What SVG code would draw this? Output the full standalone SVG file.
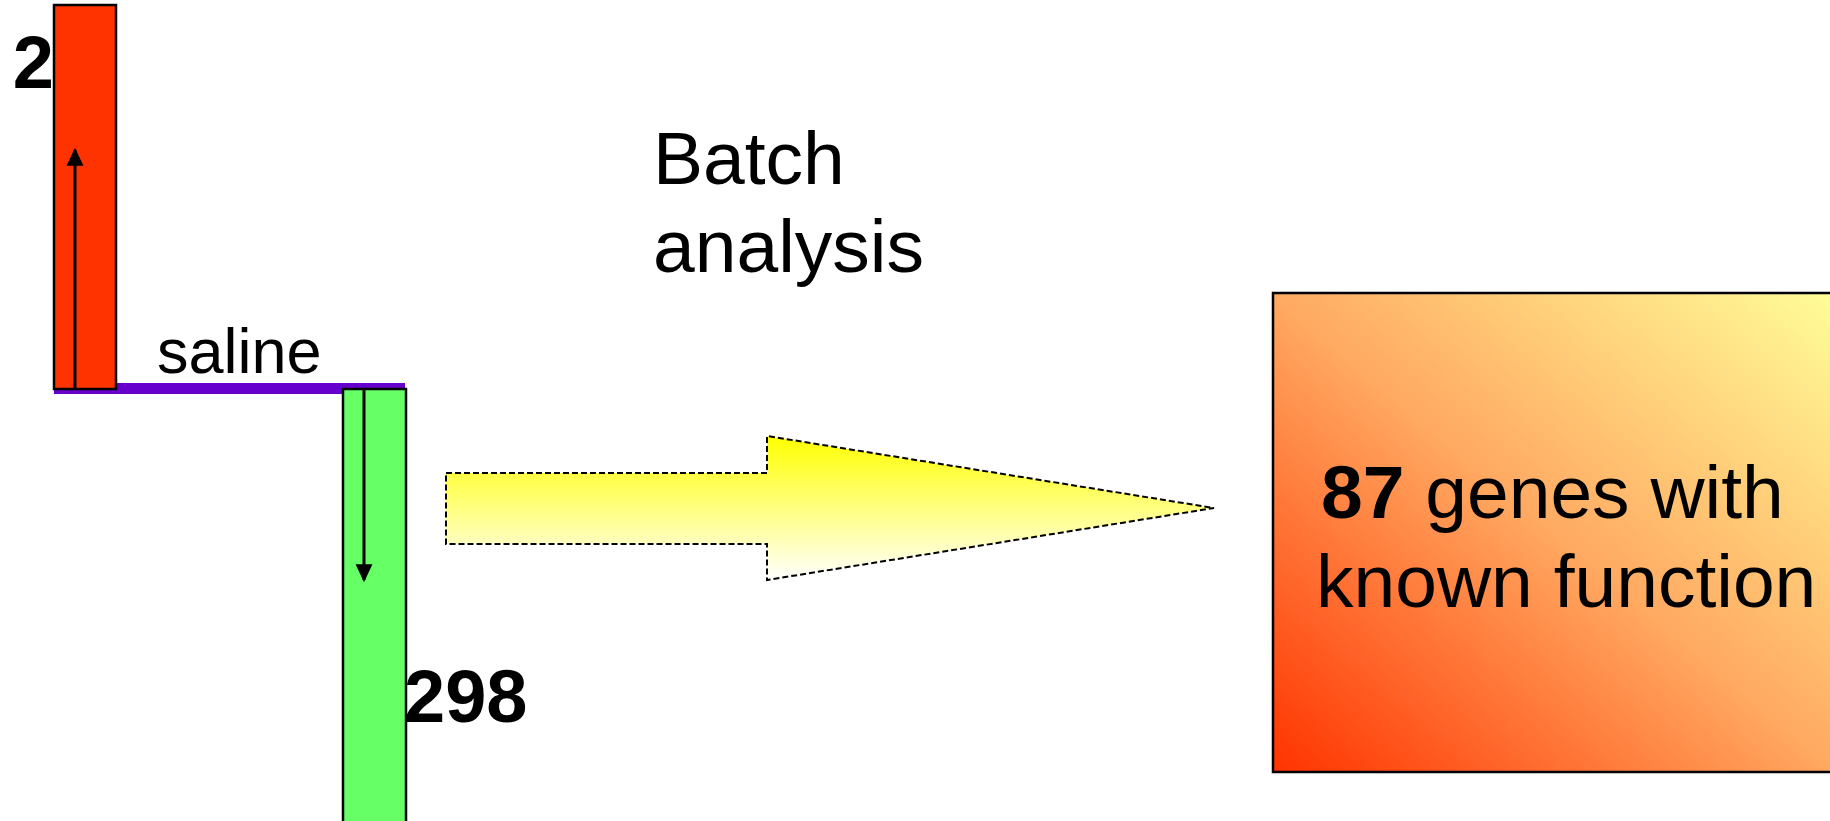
<svg xmlns="http://www.w3.org/2000/svg" width="1830" height="821" viewBox="0 0 1830 821">
  <style>
    .lbl { font-family: "Liberation Sans", Arial, sans-serif; fill: #000; }
    .big { font-size: 75px; }
    .num { font-size: 74px; font-weight: bold; }
    .bar { stroke: #000; stroke-width: 2.5; }
    .conn { stroke: #000; stroke-width: 3; fill: none; }
  </style>
  <defs>
    <marker id="ah" markerUnits="userSpaceOnUse" markerWidth="18" markerHeight="18" viewBox="0 0 16 16" refX="14" refY="8" orient="auto">
      <path d="M0,0.5 L16,8 L0,15.5 Z" fill="#000"/>
    </marker>
    <linearGradient id="gArrow" x1="0" y1="0" x2="0" y2="1">
      <stop offset="0" stop-color="#FFFF00"/>
      <stop offset="1" stop-color="#FFFFFF"/>
    </linearGradient>
    <linearGradient id="gBox" x1="0" y1="1" x2="1" y2="0">
      <stop offset="0" stop-color="#FF3300"/>
      <stop offset="0.5" stop-color="#FFAA62"/>
      <stop offset="1" stop-color="#FFFF99"/>
    </linearGradient>
  </defs>

  <g id="baseline">
    <rect x="54" y="383" width="351" height="11" fill="#6600CC"/>
  </g>

  <g id="up-bar">
    <rect class="bar" x="54" y="5" width="62" height="384" fill="#FF3300"/>
    <text class="lbl num" x="54" y="88" text-anchor="end">2</text>
  </g>

  <g id="down-bar">
    <rect class="bar" x="343" y="389" width="63" height="436" fill="#66FF66"/>
    <text class="lbl num" x="404" y="722">298</text>
  </g>

  <g id="saline-label">
    <text class="lbl" x="157" y="373" font-size="63">saline</text>
  </g>

  <g id="batch-label">
    <text class="lbl big" x="653" y="184">Batch</text>
    <text class="lbl big" x="653" y="272">analysis</text>
  </g>

  <g id="block-arrow">
    <polygon points="446,473 767,473 767,436 1214,508 767,580 767,544 446,544" fill="url(#gArrow)" stroke="#000" stroke-width="2" stroke-dasharray="6,3"/>
  </g>

  <g id="result-box">
    <rect x="1273" y="293" width="570" height="479" fill="url(#gBox)" stroke="#000" stroke-width="2.5"/>
    <text class="lbl big" x="1321" y="518"><tspan font-weight="bold">87</tspan> genes with</text>
    <text class="lbl big" x="1316" y="607">known function</text>
  </g>

  <g id="connectors">
    <line class="conn" x1="75" y1="389" x2="75" y2="150" marker-end="url(#ah)"/>
    <line class="conn" x1="364" y1="389" x2="364" y2="580" marker-end="url(#ah)"/>
  </g>
</svg>
